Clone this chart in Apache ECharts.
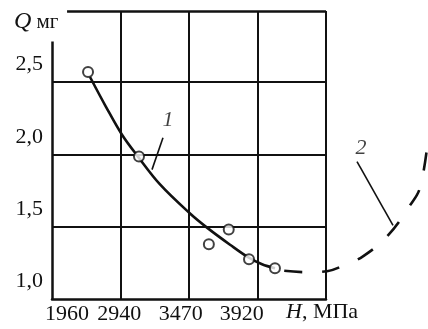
<!DOCTYPE html>
<html>
<head>
<meta charset="utf-8">
<script src="https://cdn.jsdelivr.net/npm/echarts@6/dist/echarts.min.js"></script>
<style>html,body{margin:0;padding:0;background:#fff;}#c{width:428px;height:329px;}</style>
</head>
<body>
<div id="c"></div>
<script>
// x axis: position along the (non-linear) H scale, grid cells 0..4
const xTickPos = [0.22, 0.98, 1.88, 2.77];
const xTickLabels = ['1960', '2940', '3470', '3920'];
const yTickValues = [1.0, 1.5, 2.0, 2.5];
const xMin = 0, xMax = 4, xInterval = 1;
const xMaxExtended = 5.489;   // the dashed curve runs on past the frame
const yMin = 0.88, yMax = 2.87, yInterval = 0.5;
const yLeftTop = 2.66;   // left axis line stops below the "Q мг" title
const xTopStart = 0.22;  // top frame line starts right of the title

// experimental points (open circles)
const pointsU = [0.526, 1.27, 2.29, 2.58, 2.876, 3.255];
const pointsQ = [2.449, 1.865, 1.258, 1.361, 1.155, 1.093];

// curve 1 (solid)
const curve1U = [0.555, 0.788, 1.022, 1.255, 1.577, 2.015, 2.277, 2.599, 2.861, 3.066, 3.255];
const curve1Q = [2.414, 2.208, 2.015, 1.864, 1.672, 1.471, 1.368, 1.255, 1.169, 1.120, 1.093];

// curve 2 (dashed)
const curve2U = [3.39, 3.737, 4.015, 4.234, 4.54, 4.905, 5.226, 5.372, 5.489];
const curve2Q = [1.075, 1.065, 1.072, 1.107, 1.175, 1.32, 1.527, 1.65, 1.981];

// curve labels and leader lines
const label1 = {text: '1', u: 1.693, q: 2.118};
const leader1U = [1.62, 1.46];
const leader1Q = [1.994, 1.774];
const label2 = {text: '2', u: 4.51, q: 1.919};
const leader2U = [4.453, 4.978];
const leader2Q = [1.829, 1.389];

const zip = (a, b) => a.map((v, i) => [v, b[i]]);
const serif = 'Liberation Serif, Times New Roman, serif';
const ink = '#111';
const labelStyle = {show: true, position: 'inside', formatter: p => p.name,
  fontFamily: serif, fontStyle: 'italic', fontSize: 22, color: ink};

const chart = echarts.init(document.getElementById('c'), null, {renderer: 'canvas'});
chart.setOption({
  animation: false,
  backgroundColor: '#fff',
  grid: [
    {left: 52, right: 102, top: 11, bottom: 30, containLabel: false},
    {left: 52, right: 0, top: 11, bottom: 30, containLabel: false}
  ],
  xAxis: [{
    type: 'value', gridIndex: 0, min: xMin, max: xMax, interval: xInterval,
    axisLine: {show: true, lineStyle: {color: ink, width: 2.5}},
    axisTick: {show: false},
    splitLine: {show: true, showMinLine: false, showMaxLine: true, lineStyle: {color: ink, width: 2}},
    axisLabel: {
      customValues: xTickPos,
      margin: 4,
      color: ink, fontFamily: serif, fontSize: 22,
      formatter: function (v) {
        const i = xTickPos.findIndex(p => Math.abs(p - v) < 1e-6);
        return i >= 0 ? xTickLabels[i] : '';
      }
    }
  }, {
    type: 'value', gridIndex: 1, min: xMin, max: xMaxExtended, show: false,
    splitLine: {show: false}
  }],
  yAxis: [{
    type: 'value', gridIndex: 0, min: yMin, max: yMax, interval: yInterval,
    axisLine: {show: false},
    axisTick: {show: false},
    splitLine: {show: true, showMinLine: false, showMaxLine: false, lineStyle: {color: ink, width: 2}},
    axisLabel: {
      customValues: yTickValues,
      margin: 9,
      color: ink, fontFamily: serif, fontSize: 22,
      formatter: v => v.toFixed(1).replace('.', ',')
    }
  }, {
    type: 'value', gridIndex: 1, min: yMin, max: yMax, show: false,
    splitLine: {show: false}
  }],
  graphic: [
    {type: 'text', left: 14, top: 10, style: {
      text: '{q|Q}{u| мг}',
      rich: {
        q: {fontFamily: serif, fontStyle: 'italic', fontSize: 24, fill: ink},
        u: {fontFamily: serif, fontSize: 21, fill: ink}
      }
    }},
    {type: 'text', left: 286, top: 301, style: {
      text: '{h|H}{u|, МПа}',
      rich: {
        h: {fontFamily: serif, fontStyle: 'italic', fontSize: 22, fill: ink},
        u: {fontFamily: serif, fontSize: 22, fill: ink}
      }
    }}
  ],
  series: [
    {
      type: 'line', name: 'frame', data: [], silent: true,
      markLine: {
        silent: true, symbol: 'none', label: {show: false},
        lineStyle: {color: ink, width: 2.5, type: 'solid'},
        data: [
          [{coord: [xMin, yMin]}, {coord: [xMin, yLeftTop]}],
          [{coord: [xTopStart, yMax]}, {coord: [xMax, yMax]}]
        ]
      }
    },
    {
      type: 'line', name: '1', data: zip(curve1U, curve1Q), smooth: 0.35,
      symbol: 'none', lineStyle: {color: ink, width: 2.6}, z: 3
    },
    {
      type: 'line', name: '2', xAxisIndex: 1, yAxisIndex: 1,
      data: zip(curve2U, curve2Q), smooth: 0.4,
      symbol: 'none', lineStyle: {color: ink, width: 2.6, type: [18, 20]}, z: 3
    },
    {
      type: 'line', name: 'leader1', data: zip(leader1U, leader1Q), symbol: 'none',
      lineStyle: {color: ink, width: 1.6}
    },
    {
      type: 'line', name: 'leader2', xAxisIndex: 1, yAxisIndex: 1,
      data: zip(leader2U, leader2Q), symbol: 'none',
      lineStyle: {color: ink, width: 1.6}
    },
    {
      type: 'scatter', name: 'label1', symbolSize: 0, silent: true,
      data: [{name: label1.text, value: [label1.u, label1.q]}],
      label: labelStyle
    },
    {
      type: 'scatter', name: 'label2', xAxisIndex: 1, yAxisIndex: 1, symbolSize: 0, silent: true,
      data: [{name: label2.text, value: [label2.u, label2.q]}],
      label: labelStyle
    },
    {
      type: 'scatter', name: 'points', data: zip(pointsU, pointsQ), symbol: 'circle', symbolSize: 10,
      itemStyle: {color: '#fff', borderColor: ink, borderWidth: 2}, z: 5
    }
  ]
});
</script>
</body>
</html>
